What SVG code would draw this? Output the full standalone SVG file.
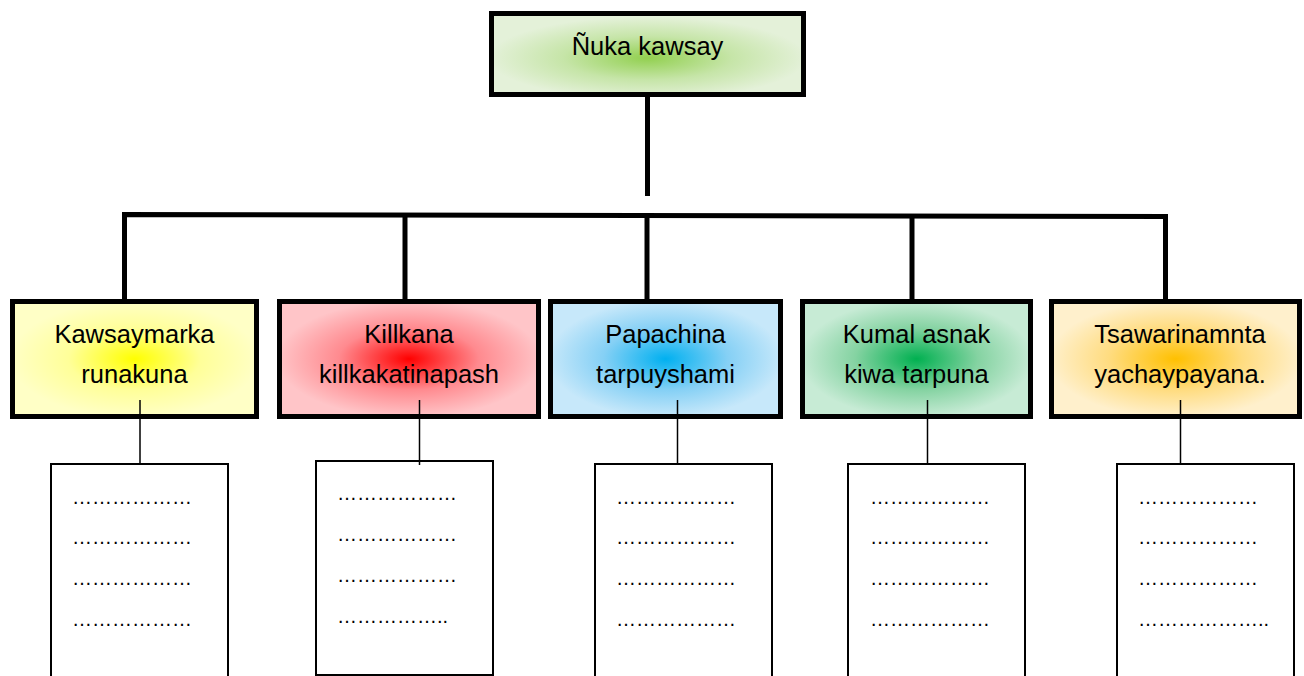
<svg xmlns="http://www.w3.org/2000/svg" width="1304" height="676" viewBox="0 0 1304 676">
<style>
.box{stroke:#000;stroke-width:5}
.list{fill:#fff;stroke:#000;stroke-width:2}
.t{font-family:"Liberation Sans",Arial,sans-serif;font-size:25.5px;fill:#000;text-anchor:middle}
.d{font-family:"Liberation Sans",Arial,sans-serif;font-size:20px;fill:#000}
.thick{stroke:#000;stroke-width:5;fill:none}
.thin{stroke:#000;stroke-width:1.5;fill:none}
</style>
<defs>
<radialGradient id="gTop" cx="0.5" cy="0.55" r="0.6"><stop offset="0" stop-color="#92d050"/><stop offset="0.45" stop-color="#c6e5a8"/><stop offset="0.85" stop-color="#e4f1d9"/></radialGradient>
<radialGradient id="gY" cx="0.5" cy="0.5" r="0.6"><stop offset="0" stop-color="#ffff00"/><stop offset="0.45" stop-color="#ffff99"/><stop offset="0.85" stop-color="#ffffc6"/></radialGradient>
<radialGradient id="gR" cx="0.5" cy="0.5" r="0.6"><stop offset="0" stop-color="#ff0000"/><stop offset="0.45" stop-color="#ff8a8f"/><stop offset="0.85" stop-color="#ffc5c8"/></radialGradient>
<radialGradient id="gB" cx="0.5" cy="0.5" r="0.6"><stop offset="0" stop-color="#00b0f0"/><stop offset="0.45" stop-color="#85d0f5"/><stop offset="0.85" stop-color="#c7e8fa"/></radialGradient>
<radialGradient id="gG" cx="0.5" cy="0.5" r="0.6"><stop offset="0" stop-color="#00b050"/><stop offset="0.45" stop-color="#85d3a2"/><stop offset="0.85" stop-color="#c7ebd5"/></radialGradient>
<radialGradient id="gO" cx="0.5" cy="0.5" r="0.6"><stop offset="0" stop-color="#ffc000"/><stop offset="0.45" stop-color="#ffdc80"/><stop offset="0.85" stop-color="#fff0cc"/></radialGradient>
</defs>
<rect width="1304" height="676" fill="#fff"/>
<g id="root">
<rect class="box" x="491.5" y="13.5" width="312" height="81" fill="url(#gTop)"/>
<text class="t" x="647.5" y="55">Ñuka kawsay</text>
</g>
<g id="n1">
<rect class="box" x="12.5" y="301.5" width="244" height="115" fill="url(#gY)"/>
<text class="t" x="134.5" y="343">Kawsaymarka</text>
<text class="t" x="134.5" y="383">runakuna</text>
</g>
<g id="n2">
<rect class="box" x="279.5" y="301.5" width="259" height="115" fill="url(#gR)"/>
<text class="t" x="409" y="343">Killkana</text>
<text class="t" x="409" y="383">killkakatinapash</text>
</g>
<g id="n3">
<rect class="box" x="550.5" y="301.5" width="230" height="115" fill="url(#gB)"/>
<text class="t" x="665.5" y="343">Papachina</text>
<text class="t" x="665.5" y="383">tarpuyshami</text>
</g>
<g id="n4">
<rect class="box" x="802.5" y="301.5" width="228" height="115" fill="url(#gG)"/>
<text class="t" x="916.5" y="343">Kumal asnak</text>
<text class="t" x="916.5" y="383">kiwa tarpuna</text>
</g>
<g id="n5">
<rect class="box" x="1051.5" y="301.5" width="248" height="115" fill="url(#gO)"/>
<text class="t" x="1180" y="343">Tsawarinamnta</text>
<text class="t" x="1180" y="383">yachaypayana.</text>
</g>
<g id="l1">
<rect class="list" x="51" y="464" width="177" height="230"/>
<text class="d" x="72" y="504">………………</text>
<text class="d" x="72" y="544">………………</text>
<text class="d" x="72" y="585">………………</text>
<text class="d" x="72" y="626">………………</text>
</g>
<g id="l2">
<rect class="list" x="316" y="461" width="177" height="214"/>
<text class="d" x="337" y="500">………………</text>
<text class="d" x="337" y="541">………………</text>
<text class="d" x="337" y="582">………………</text>
<text class="d" x="337" y="623">……………..</text>
</g>
<g id="l3">
<rect class="list" x="595" y="464" width="177" height="230"/>
<text class="d" x="616" y="504">………………</text>
<text class="d" x="616" y="544">………………</text>
<text class="d" x="616" y="585">………………</text>
<text class="d" x="616" y="626">………………</text>
</g>
<g id="l4">
<rect class="list" x="848" y="464" width="177" height="230"/>
<text class="d" x="870" y="504">………………</text>
<text class="d" x="870" y="544">………………</text>
<text class="d" x="870" y="585">………………</text>
<text class="d" x="870" y="626">………………</text>
</g>
<g id="l5">
<rect class="list" x="1117" y="464" width="177" height="230"/>
<text class="d" x="1138" y="504">………………</text>
<text class="d" x="1138" y="544">………………</text>
<text class="d" x="1138" y="585">………………</text>
<text class="d" x="1138" y="626">………………..</text>
</g>
<g id="connectors">
<line class="thick" x1="647.5" y1="96" x2="647.5" y2="196"/>
<path class="thick" d="M124.5 299 V214.5 L1165.5 216.5 V299"/>
<line class="thick" x1="405" y1="215" x2="405" y2="299"/>
<line class="thick" x1="647" y1="215.5" x2="647" y2="299"/>
<line class="thick" x1="912" y1="216" x2="912" y2="299"/>
<line class="thin" x1="140" y1="400" x2="140" y2="464"/>
<line class="thin" x1="419.5" y1="400" x2="419.5" y2="465"/>
<line class="thin" x1="677.5" y1="400" x2="677.5" y2="464"/>
<line class="thin" x1="927.5" y1="400" x2="927.5" y2="464"/>
<line class="thin" x1="1180.5" y1="400" x2="1180.5" y2="464"/>
</g>
</svg>
